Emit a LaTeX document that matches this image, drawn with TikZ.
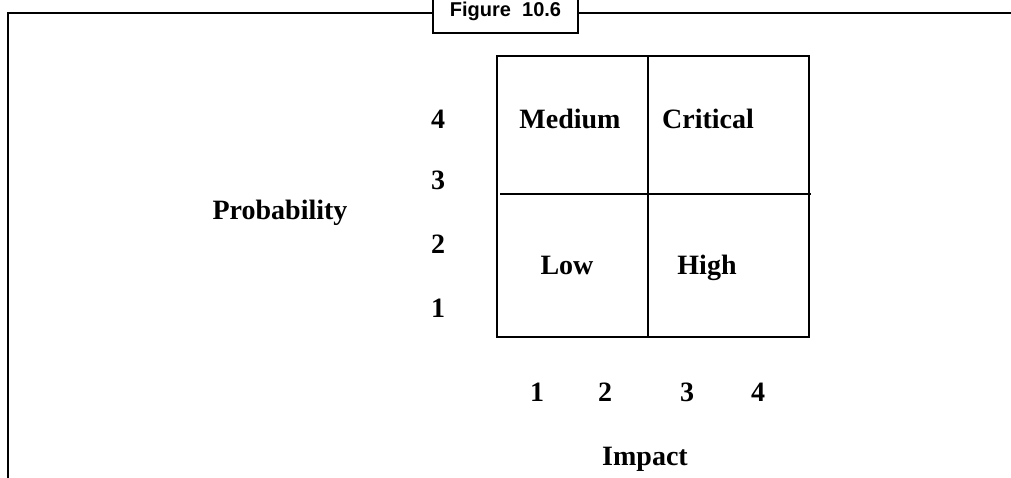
\documentclass[tikz,border=0pt]{standalone}
\usepackage{fontspec}
\setmainfont{Liberation Serif}
\newfontfamily\capfont{Liberation Sans}
\begin{document}
\begin{tikzpicture}[x=0.75pt,y=-0.75pt,
  lbl/.style={font=\fontsize{21}{25}\selectfont\bfseries, inner sep=0pt, anchor=base},
  frame/.style={line width=1.6pt, black},
  grid/.style={line width=1pt, black}]
\useasboundingbox (0,0) rectangle (1011,478);
% outer frame
\coordinate (fl) at (8,478);
\coordinate (ftl) at (8,13);
\coordinate (cbl) at (433,13);
\coordinate (cbr) at (578,13);
\coordinate (ftr) at (1011,13);
\draw[frame] (fl) -- (ftl) -- (cbl);
\draw[frame] (cbr) -- (ftr);
% caption box
\coordinate (b1) at (433,-2);
\coordinate (b2) at (433,33);
\coordinate (b3) at (578,33);
\coordinate (b4) at (578,-2);
\draw[frame, line join=miter] (b1) -- (b2) -- (b3) -- (b4);
\node[font=\capfont\fontsize{15}{18}\selectfont\bfseries, inner sep=0pt, anchor=base] (cap) at (505.5,17) {Figure\ \ 10.6};
% grid
\coordinate (g1) at (497,56);
\coordinate (g2) at (809,337);
\coordinate (vt) at (648,56);
\coordinate (vb) at (648,337);
\coordinate (hl) at (500,194);
\coordinate (hr) at (811,194);
\draw[grid] (g1) rectangle (g2);
\draw[grid] (vt) -- (vb);
\draw[grid] (hl) -- (hr);
% cell labels
\node[lbl] (med) at (570,128) {Medium};
\node[lbl] (crit) at (708,128) {Critical};
\node[lbl] (low) at (567,274) {Low};
\node[lbl] (high) at (707,274) {High};
% axis numbers
\node[lbl] (y4) at (438,128) {4};
\node[lbl] (y3) at (438,190) {3};
\node[lbl] (y2) at (438,253) {2};
\node[lbl] (y1) at (438,317) {1};
\node[lbl] (x1) at (537,401) {1};
\node[lbl] (x2) at (605,401) {2};
\node[lbl] (x3) at (687,401) {3};
\node[lbl] (x4) at (758,401) {4};
% axis titles
\node[lbl] (prob) at (280,219) {Probability};
\node[lbl] (imp) at (645,465) {Impact};
\end{tikzpicture}
\end{document}
